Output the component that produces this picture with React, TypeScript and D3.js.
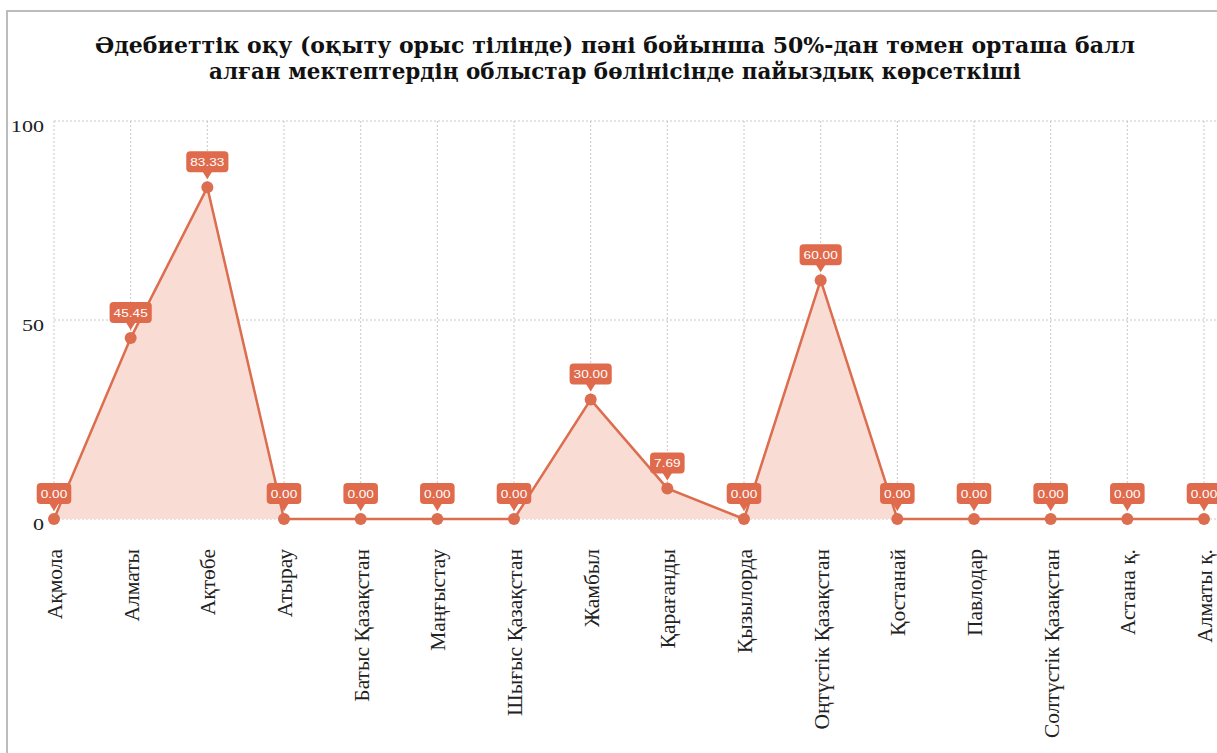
import React from "react";
import * as d3 from "d3";

const titleLines = [
  "Әдебиеттік оқу (оқыту орыс тілінде) пәні бойынша 50%-дан төмен орташа балл",
  "алған мектептердің облыстар бөлінісінде пайыздық көрсеткіші",
];

const categories = [
  "Ақмола",
  "Алматы",
  "Ақтөбе",
  "Атырау",
  "Батыс Қазақстан",
  "Маңғыстау",
  "Шығыс Қазақстан",
  "Жамбыл",
  "Қарағанды",
  "Қызылорда",
  "Оңтүстік Қазақстан",
  "Қостанай",
  "Павлодар",
  "Солтүстік Қазақстан",
  "Астана қ.",
  "Алматы қ.",
];

const values = [0, 45.45, 83.33, 0, 0, 0, 0, 30, 7.69, 0, 60, 0, 0, 0, 0, 0];

const yTicks = [0, 50, 100];

const W = 1217;
const H = 753;
const SX = 1.3;
const LINE = "#dc6d4e";
const BOX = "#e06a4c";
const FILL = "#f9ddd4";
const SERIF = "'Liberation Serif', 'Times New Roman', serif";
const TITLE_FONT = "'DejaVu Serif', serif";
const SANS = "'Liberation Sans', Arial, sans-serif";

export default function App() {
  const x = d3.scalePoint<string>().domain(categories).range([54, 1204]);
  const y = d3.scaleLinear().domain([0, 100]).range([519, 121]);

  const pts = categories.map((c, i) => ({ c, v: values[i] }));
  const line = d3
    .line<{ c: string; v: number }>()
    .x((d) => x(d.c)!)
    .y((d) => y(d.v));
  const area = d3
    .area<{ c: string; v: number }>()
    .x((d) => x(d.c)!)
    .y0(y(0))
    .y1((d) => y(d.v));

  const labelW = (s: string) => {
    let w = 0;
    for (const ch of s) w += ch === "." ? 0.278 : 0.556;
    return w * 10.5 * SX + 8;
  };

  return (
    <svg
      width={W}
      height={H}
      style={{ position: "absolute", left: 0, top: 0, background: "#fff" }}
    >
      <rect x={7} y={11} width={W + 20} height={H + 20} fill="none" stroke="#bcbcbc" strokeWidth={2} />
      {titleLines.map((t, i) => (
        <text
          key={i}
          x={615}
          y={53 + i * 26}
          textAnchor="middle"
          fontFamily={TITLE_FONT}
          fontWeight="bold"
          fontSize={23}
          fill="#111"
          textLength={i === 0 ? 1040 : 812}
          lengthAdjust="spacingAndGlyphs"
        >
          {t}
        </text>
      ))}
      {yTicks.map((t) => (
        <line
          key={"h" + t}
          x1={54}
          x2={W}
          y1={y(t)}
          y2={y(t)}
          stroke="#c8c8c8"
          strokeDasharray="2,2"
        />
      ))}
      {categories.map((c) => (
        <line
          key={"v" + c}
          x1={x(c)}
          x2={x(c)}
          y1={y(100)}
          y2={y(0)}
          stroke="#c8c8c8"
          strokeDasharray="2,2"
        />
      ))}
      {yTicks.map((t) => (
        <text
          key={"yt" + t}
          transform={`translate(44,${y(t) + 11}) scale(${SX},1)`}
          textAnchor="end"
          fontFamily={SERIF}
          fontSize={17}
          fill="#222"
        >
          {t}
        </text>
      ))}
      <path d={area(pts)!} fill={FILL} />
      <path d={line(pts)!} fill="none" stroke={LINE} strokeWidth={2.5} />
      {pts.map((d) => (
        <circle key={"p" + d.c} cx={x(d.c)} cy={y(d.v)} r={6} fill={LINE} />
      ))}
      {pts.map((d) => {
        const cx = x(d.c)!;
        const cy = y(d.v);
        const s = d.v.toFixed(2);
        const bw = labelW(s);
        const bh = 21;
        const bb = cy - 15;
        return (
          <g key={"l" + d.c}>
            <rect x={cx - bw / 2} y={bb - bh} width={bw} height={bh} rx={4} fill={BOX} />
            <path d={`M${cx - 5},${bb - 1} L${cx + 5},${bb - 1} L${cx},${cy - 8} Z`} fill={BOX} />
            <text
              transform={`translate(${cx},${bb - bh / 2 + 4}) scale(${SX},1)`}
              textAnchor="middle"
              fontFamily={SANS}
              fontSize={10.5}
              fill="#fff"
            >
              {s}
            </text>
          </g>
        );
      })}
      {categories.map((c) => (
        <text
          key={"c" + c}
          transform={`translate(${x(c)! + 1},549) rotate(-90)`}
          textAnchor="end"
          dominantBaseline="central"
          fontFamily={SERIF}
          fontSize={21.5}
          fill="#222"
        >
          {c}
        </text>
      ))}
    </svg>
  );
}
